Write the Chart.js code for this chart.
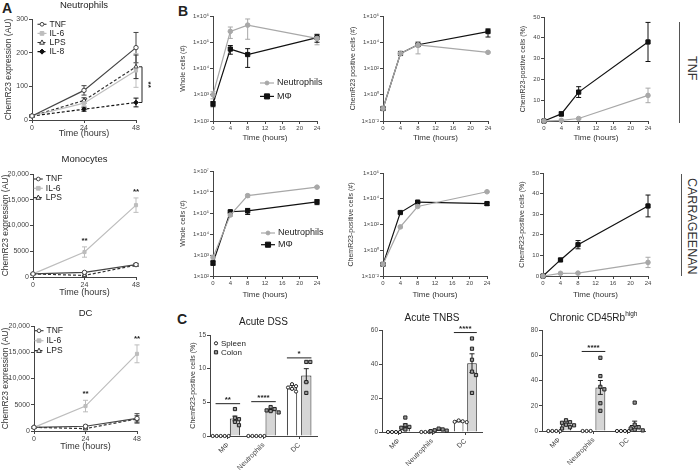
<!DOCTYPE html>
<html>
<head>
<meta charset="utf-8">
<script src="https://cdn.jsdelivr.net/npm/chart.js@4.4.1/dist/chart.umd.min.js"></script>
<style>
  body { margin: 0; background: #fff; }
  #fig { position: relative; width: 700px; height: 471px; overflow: hidden; font-family: "Liberation Sans", Arial, sans-serif; color: #222; }
  #fig canvas { position: absolute; }
  .tag { position: absolute; font-weight: bold; font-size: 14px; }
  .side { position: absolute; writing-mode: vertical-rl; font-size: 12.5px; color: #333; }
  .rule { position: absolute; width: 0; border-left: 1px solid #555; }
</style>
</head>
<body>
<div id="fig">
  <div class="tag" style="left:2px;top:0px">A</div>
  <div class="tag" style="left:178px;top:3px">B</div>
  <div class="tag" style="left:177px;top:311px">C</div>
  <div class="rule" style="left:679px;top:22px;height:101px"></div>
  <div class="side" style="left:685px;top:56px">TNF</div>
  <div class="rule" style="left:681px;top:174px;height:102px"></div>
  <div class="side" style="left:685px;top:178px">CARRAGEENAN</div>

  <canvas id="aNeu"></canvas>
  <canvas id="aMono"></canvas>
  <canvas id="aDc"></canvas>
  <canvas id="bTnfWhole"></canvas>
  <canvas id="bTnfPos"></canvas>
  <canvas id="bTnfPct"></canvas>
  <canvas id="bCarWhole"></canvas>
  <canvas id="bCarPos"></canvas>
  <canvas id="bCarPct"></canvas>
  <canvas id="cDss"></canvas>
  <canvas id="cTnbs"></canvas>
  <canvas id="cChronic"></canvas>
</div>
<script>
// ---- panel A: ChemR23 expression after stimulation (AU) ----
const hoursA = [0, 24, 48];
const neuTNF = [12, 88, 215], neuTNFsem = [3, 14, 45];
const neuIL6 = [12, 50, 147], neuIL6sem = [3, 8, 50];
const neuLPS = [12, 58, 158], neuLPSsem = [3, 8, 35];
const neuIL8 = [12, 32, 52], neuIL8sem = [3, 6, 13];

const monoTNF = [600, 900, 2400], monoTNFsem = [100, 150, 250];
const monoIL6 = [600, 4850, 13950], monoIL6sem = [100, 1000, 1400];
const monoLPS = [600, 300, 2300], monoLPSsem = [100, 80, 200];

const dcTNF = [700, 900, 2400], dcTNFsem = [100, 200, 900];
const dcIL6 = [700, 4750, 14700], dcIL6sem = [100, 1100, 1700];
const dcLPS = [700, 450, 2300], dcLPSsem = [100, 100, 600];

// ---- panel B: in vivo kinetics ----
const hoursB = [0, 4, 8, 24];
const tnfWholeNeu = [1000, 260000, 450000, 140000], tnfWholeNeuSem = [300, 120000, 320000, 60000];
const tnfWholeMac = [450, 55000, 34000, 150000], tnfWholeMacSem = [100, 20000, 23000, 50000];
const tnfPosNeu = [0.09, 1400, 6300, 1700], tnfPosNeuSem = [0.02, 200, 5000, 200];
const tnfPosMac = [0.09, 1400, 6500, 65000], tnfPosMacSem = [0.02, 200, 1000, 40000];
const tnfPctNeu = [0, 0.3, 1.2, 12.3], tnfPctNeuSem = [0, 0.2, 0.4, 3.5];
const tnfPctMac = [0, 3.4, 13.9, 38], tnfPctMacSem = [0, 1, 2.6, 9.4];

const carWholeNeu = [770, 80000, 670000, 1700000], carWholeNeuSem = [200, 10000, 100000, 100000];
const carWholeMac = [420, 115000, 125000, 340000], carWholeMacSem = [100, 10000, 40000, 90000];
const carPosNeu = [0.08, 65, 2500, 35000], carPosNeuSem = [0.01, 10, 300, 3000];
const carPosMac = [0.08, 850, 5500, 4200], carPosMacSem = [0.01, 100, 1000, 1200];
const carPctNeu = [0, 1.3, 1.4, 6.6], carPctNeuSem = [0, 0.3, 0.3, 2.5];
const carPctMac = [0, 7.8, 15.2, 34], carPctMacSem = [0, 0.6, 2, 5.3];

// ---- panel C: colitis models ----
const cellTypes = ['MΦ', 'Neutrophils', 'DC'];
const dssSpleen = [0, 0, 7.2], dssSpleenSem = [0, 0, 0.3];
const dssColon = [2.6, 3.85, 9.0], dssColonSem = [0.35, 0.15, 1.0];
const dssSpleenDots = [[0, 0, 0, 0, 0], [0, 0, 0, 0, 0], [7.7, 7.4, 7.2, 7.0, 6.6]];
const dssColonDots = [[4.0, 2.7, 2.5, 2.1, 1.6], [4.3, 4.0, 3.8, 3.7, 3.5], [11.0, 11.0, 8.0, 6.4]];
const dssSig = [{ cat: 0, at: 4.8, text: '**' }, { cat: 1, at: 5.1, text: '****' }, { cat: 2, at: 11.6, text: '*' }];

const tnbsSpleen = [0, 0, 6.3], tnbsSpleenSem = [0, 0, 0.3];
const tnbsColon = [3.6, 1.2, 40.5], tnbsColonSem = [1.1, 0.3, 5.5];
const tnbsSpleenDots = [[0, 0, 0, 0], [0, 0, 0, 0], [6.8, 6.3, 6.0, 5.8]];
const tnbsColonDots = [[8.5, 4, 3, 2.5, 1.5], [2, 1.5, 1, 0.8, 0.5], [55, 49, 42.5, 35.5, 33.5, 23]];
const tnbsSig = [{ cat: 2, at: 58.5, text: '****' }];

const chrSpleen = [0, 0, 0], chrSpleenSem = [0, 0, 0];
const chrColon = [5.2, 34.5, 4.8], chrColonSem = [1, 5.5, 3];
const chrSpleenDots = [[0, 0, 0, 0], [0, 0, 0], [0, 0, 0, 0]];
const chrColonDots = [[8.5, 7, 6.5, 5, 4.5, 3, 2], [58, 43.5, 35, 33, 22, 16], [22.5, 5, 3, 2, 1, 0.5]];
const chrSig = [{ cat: 1, at: 63, text: '****' }];

const FONT = '"Liberation Sans", Arial, Helvetica, sans-serif';
Chart.defaults.font.family = FONT;
Chart.defaults.color = '#333';
Chart.defaults.animation = false;
Chart.defaults.plugins.legend.display = false;
Chart.defaults.plugins.tooltip.enabled = false;

const looks = {
  tnf: { borderColor: '#444', pointStyle: 'circle', pointRadius: 2.2, pointBackgroundColor: '#fff', pointBorderColor: '#444' },
  il6: { borderColor: '#bdbdbd', pointStyle: 'rect', pointRadius: 2.2, pointBackgroundColor: '#bdbdbd', pointBorderColor: '#bdbdbd' },
  lps: { borderColor: '#333', borderDash: [3, 2], pointStyle: 'triangle', pointRadius: 2.5, pointBackgroundColor: '#fff', pointBorderColor: '#333' },
  il8: { borderColor: '#111', borderDash: [3, 2], pointStyle: 'rectRot', pointRadius: 2.3, pointBackgroundColor: '#111', pointBorderColor: '#111' },
  neu: { borderColor: '#a8a8a8', pointStyle: 'circle', pointRadius: 2.3, pointBackgroundColor: '#a8a8a8', pointBorderColor: '#a8a8a8' },
  mac: { borderColor: '#111', pointStyle: 'rect', pointRadius: 3, pointBackgroundColor: '#111', pointBorderColor: '#111' }
};

function series(label, xs, ys, sem, look) {
  return Object.assign({
    label, sem,
    data: xs.map((x, i) => ({ x, y: ys[i] })),
    borderWidth: 1.2, pointBorderWidth: 1, clip: false
  }, look);
}

// small marker drawer, used for legends and the dots on the bars
function mark(ctx, style, x, y, r, fill, stroke) {
  ctx.beginPath();
  if (style === 'rect') ctx.rect(x - r, y - r, 2 * r, 2 * r);
  else if (style === 'triangle') { ctx.moveTo(x, y - r * 1.2); ctx.lineTo(x + r * 1.1, y + r * 0.8); ctx.lineTo(x - r * 1.1, y + r * 0.8); ctx.closePath(); }
  else if (style === 'rectRot') { ctx.moveTo(x, y - r * 1.3); ctx.lineTo(x + r * 1.3, y); ctx.lineTo(x, y + r * 1.3); ctx.lineTo(x - r * 1.3, y); ctx.closePath(); }
  else ctx.arc(x, y, r, 0, Math.PI * 2);
  ctx.fillStyle = fill; ctx.fill();
  ctx.setLineDash([]); ctx.strokeStyle = stroke; ctx.lineWidth = 1; ctx.stroke();
}

// mean +/- SEM whiskers
const errBars = {
  id: 'errBars',
  draw(chart) {
    const { ctx } = chart, ys = chart.scales.y;
    chart.data.datasets.forEach((ds, di) => {
      if (!ds.sem) return;
      const meta = chart.getDatasetMeta(di);
      ctx.save();
      ctx.strokeStyle = chart.config.type === 'bar' ? '#222' : ds.borderColor;
      ctx.lineWidth = 1;
      ctx.setLineDash([]);
      meta.data.forEach((el, i) => {
        const e = ds.sem[i];
        if (!e) return;
        const v = typeof ds.data[i] === 'object' ? ds.data[i].y : ds.data[i];
        let lo = v - e;
        if (ys.type === 'logarithmic' && lo <= 0) lo = ys.min;
        const yh = ys.getPixelForValue(v + e), yl = ys.getPixelForValue(lo);
        const cap = 2.5;
        ctx.beginPath();
        ctx.moveTo(el.x, yh); ctx.lineTo(el.x, yl);
        ctx.moveTo(el.x - cap, yh); ctx.lineTo(el.x + cap, yh);
        ctx.moveTo(el.x - cap, yl); ctx.lineTo(el.x + cap, yl);
        ctx.stroke();
      });
      ctx.restore();
    });
  },
  beforeDatasetsDraw(chart) { if (chart.config.type !== 'bar') this.draw(chart); },
  afterDatasetsDraw(chart) { if (chart.config.type === 'bar') this.draw(chart); }
};

// individual animals on the bars, laid out as a small swarm
const dotsPlug = {
  id: 'dots',
  afterDatasetsDraw(chart) {
    const { ctx } = chart, ys = chart.scales.y, r = 1.6;
    chart.data.datasets.forEach((ds, di) => {
      if (!ds.dots) return;
      chart.getDatasetMeta(di).data.forEach((bar, i) => {
        const placed = [];
        ds.dots[i].forEach(v => {
          const y = ys.getPixelForValue(v);
          for (let k = 0; k < 20; k++) {
            const off = (k % 2 ? 1 : -1) * Math.ceil(k / 2) * (2 * r + 0.8);
            if (placed.every(p => Math.hypot(p.x - off, p.y - y) >= 2 * r + 0.6)) {
              placed.push({ x: off, y });
              mark(ctx, ds.dotStyle, bar.x + off, y, r, ds.dotFill, ds.dotStroke);
              break;
            }
          }
        });
      });
    });
  }
};
Chart.register(errBars, dotsPlug);

function heading(text, y, size, sup) {
  return { id: 'heading', afterDraw(chart) {
    const ctx = chart.ctx, a = chart.chartArea;
    const big = size + 'px ' + FONT, small = (size * 0.65) + 'px ' + FONT;
    ctx.save();
    ctx.fillStyle = '#222'; ctx.textBaseline = 'middle'; ctx.textAlign = 'left';
    ctx.font = big; const w = ctx.measureText(text).width;
    ctx.font = small; const sw = sup ? ctx.measureText(sup).width : 0;
    const x = (a.left + a.right) / 2 - (w + sw) / 2;
    ctx.font = big; ctx.fillText(text, x, y);
    if (sup) { ctx.font = small; ctx.fillText(sup, x + w, y - size * 0.35); }
    ctx.restore();
  }};
}

function key(dx, dy, row, size, lineLen) {
  return { id: 'key', afterDraw(chart) {
    const ctx = chart.ctx, a = chart.chartArea;
    chart.data.datasets.forEach((ds, i) => {
      const x = a.left + dx, y = a.top + dy + i * row;
      ctx.save();
      if (lineLen) {
        ctx.strokeStyle = ds.borderColor; ctx.lineWidth = ds.borderWidth || 1;
        ctx.setLineDash(ds.borderDash || []);
        ctx.beginPath(); ctx.moveTo(x - lineLen / 2, y); ctx.lineTo(x + lineLen / 2, y); ctx.stroke();
        mark(ctx, ds.pointStyle, x, y, ds.pointRadius * 0.85, ds.pointBackgroundColor, ds.pointBorderColor);
      } else {
        mark(ctx, ds.dotStyle, x, y, 1.6, ds.dotFill, ds.dotStroke);
      }
      ctx.fillStyle = '#222'; ctx.font = size + 'px ' + FONT; ctx.textBaseline = 'middle'; ctx.textAlign = 'left';
      ctx.fillText(ds.label, x + (lineLen ? lineLen / 2 + 3 : 5), y);
      ctx.restore();
    });
  }};
}

// "**" over the IL-6 error bars
function starsAbove(di, idxs, text) {
  return { id: 'stars', afterDraw(chart) {
    const ctx = chart.ctx, ys = chart.scales.y, ds = chart.data.datasets[di];
    const meta = chart.getDatasetMeta(di);
    ctx.save();
    ctx.fillStyle = '#222'; ctx.font = 'bold 8px ' + FONT; ctx.textAlign = 'center'; ctx.textBaseline = 'bottom';
    idxs.forEach(i => ctx.fillText(text, meta.data[i].x, ys.getPixelForValue(ds.data[i].y + ds.sem[i]) - 2));
    ctx.restore();
  }};
}

// vertical bracket at the right of panel A (neutrophils)
function bracket(dTop, dBot, idx, text) {
  return { id: 'bracket', afterDraw(chart) {
    const ctx = chart.ctx, ys = chart.scales.y, a = chart.chartArea;
    const y1 = ys.getPixelForValue(chart.data.datasets[dTop].data[idx].y);
    const y2 = ys.getPixelForValue(chart.data.datasets[dBot].data[idx].y);
    const x = a.right + 6;
    ctx.save();
    ctx.strokeStyle = '#222'; ctx.lineWidth = 1;
    ctx.beginPath(); ctx.moveTo(x - 3, y1); ctx.lineTo(x, y1); ctx.lineTo(x, y2); ctx.lineTo(x - 3, y2); ctx.stroke();
    ctx.translate(x + 6, (y1 + y2) / 2); ctx.rotate(Math.PI / 2);
    ctx.fillStyle = '#222'; ctx.font = 'bold 8px ' + FONT; ctx.textAlign = 'center'; ctx.textBaseline = 'middle';
    ctx.fillText(text, 0, 0);
    ctx.restore();
  }};
}

function sigBars(marks) {
  return { id: 'sigBars', afterDraw(chart) {
    const ctx = chart.ctx, ys = chart.scales.y;
    const m0 = chart.getDatasetMeta(0), m1 = chart.getDatasetMeta(1);
    ctx.save();
    ctx.strokeStyle = '#222'; ctx.lineWidth = 1; ctx.fillStyle = '#222';
    ctx.font = 'bold 8px ' + FONT; ctx.textAlign = 'center'; ctx.textBaseline = 'bottom';
    marks.forEach(m => {
      const b0 = m0.data[m.cat], b1 = m1.data[m.cat];
      const x0 = b0.x - b0.width / 2, x1 = b1.x + b1.width / 2, y = ys.getPixelForValue(m.at);
      ctx.beginPath(); ctx.moveTo(x0, y); ctx.lineTo(x1, y); ctx.stroke();
      ctx.fillText(m.text, (x0 + x1) / 2, y);
    });
    ctx.restore();
  }};
}

const supers = { '-': '⁻', '0': '⁰', '1': '¹', '2': '²', '3': '³', '4': '⁴', '5': '⁵', '6': '⁶', '7': '⁷', '8': '⁸', '9': '⁹' };
function pow10(v) {
  const e = Math.round(Math.log10(v));
  return '1×10' + String(e).split('').map(c => supers[c]).join('');
}
function lin(min, max, step, fmt) {
  return { type: 'linear', min, max, ticks: { stepSize: step, callback: fmt } };
}
function logAxis(decades) {
  return {
    type: 'logarithmic', min: decades[0], max: decades[decades.length - 1],
    afterBuildTicks: s => { s.ticks = decades.map(v => ({ value: v })); },
    ticks: { callback: v => pow10(v) }
  };
}
const thousands = v => (v >= 10000 ? v.toLocaleString('en-US') : String(v));

function axis(side, room, spec, title, tSize, lSize) {
  return Object.assign({}, spec, {
    ticks: Object.assign({ font: { size: lSize }, color: '#444', padding: 1, autoSkip: false }, spec.ticks),
    border: { color: '#444', width: 1 },
    grid: { drawOnChartArea: false, tickLength: 3, color: '#444', offset: false },
    title: { display: !!title, text: title, font: { size: tSize }, color: '#333', padding: 0 },
    afterFit(s) {
      if (side === 'x') s.height = room; else s.width = room;
      s.paddingLeft = s.paddingRight = s.paddingTop = s.paddingBottom = 0;
    }
  });
}

// area = plot rectangle on the page [left, top, right, bottom]; pad = room around it [l, t, r, b]
function frame(id, area, pad) {
  const c = document.getElementById(id);
  const w = area[2] - area[0] + pad[0] + pad[2];
  const h = area[3] - area[1] + pad[1] + pad[3];
  c.style.left = (area[0] - pad[0]) + 'px';
  c.style.top = (area[1] - pad[1]) + 'px';
  c.style.width = w + 'px'; c.style.height = h + 'px';
  c.width = w; c.height = h;
  return c;
}

function lineChart(id, area, pad, datasets, xSpec, ySpec, yTitle, sz, extras) {
  return new Chart(frame(id, area, pad), {
    type: 'line',
    data: { datasets },
    options: {
      responsive: false, events: [],
      layout: { padding: { top: pad[1], right: pad[2], left: 0, bottom: 0 } },
      scales: {
        x: axis('x', pad[3], xSpec, 'Time (hours)', sz.xt, sz.tick),
        y: axis('y', pad[0], ySpec, yTitle, sz.yt, sz.tick)
      }
    },
    plugins: extras
  });
}

function barChart(id, area, pad, spleen, colon, ySpec, yTitle, extras) {
  const common = { borderColor: '#222', borderWidth: 1, barPercentage: 0.72, categoryPercentage: 0.8, dotStroke: '#222' };
  return new Chart(frame(id, area, pad), {
    type: 'bar',
    data: {
      labels: cellTypes,
      datasets: [
        Object.assign({ label: 'Spleen', data: spleen[0], sem: spleen[1], dots: spleen[2], backgroundColor: '#fff', dotStyle: 'circle', dotFill: '#fff' }, common),
        Object.assign({ label: 'Colon', data: colon[0], sem: colon[1], dots: colon[2], backgroundColor: '#d6d6d6', dotStyle: 'rect', dotFill: '#9a9a9a' }, common)
      ]
    },
    options: {
      responsive: false, events: [],
      layout: { padding: { top: pad[1], right: pad[2], left: 0, bottom: 0 } },
      scales: {
        x: axis('x', pad[3], { type: 'category', ticks: { minRotation: 45, maxRotation: 45, padding: 2 } }, '', 7, 7),
        y: axis('y', pad[0], ySpec, yTitle, 7, 6.5)
      }
    },
    plugins: extras
  });
}

const szA = { tick: 7, xt: 9, yt: 8.5 };
const szB = { tick: 6, xt: 8, yt: 7 };
const yA = 'ChemR23 expression (AU)';

lineChart('aNeu', [32, 19, 136, 120], [28, 19, 22, 19], [
  series('TNF', hoursA, neuTNF, neuTNFsem, looks.tnf),
  series('IL-6', hoursA, neuIL6, neuIL6sem, looks.il6),
  series('LPS', hoursA, neuLPS, neuLPSsem, looks.lps),
  series('IL-8', hoursA, neuIL8, neuIL8sem, looks.il8)
], lin(0, 48, 24), lin(0, 300, 100), yA, szA,
  [heading('Neutrophils', 5, 9.5), key(10, 5.3, 9.1, 8.5, 9), bracket(2, 3, 2, '**')]);

lineChart('aMono', [33, 174, 136, 277], [32, 19, 8, 21], [
  series('TNF', hoursA, monoTNF, monoTNFsem, looks.tnf),
  series('IL-6', hoursA, monoIL6, monoIL6sem, looks.il6),
  series('LPS', hoursA, monoLPS, monoLPSsem, looks.lps)
], lin(0, 48, 24), lin(0, 20000, 5000, thousands), yA, szA,
  [heading('Monocytes', 4, 9.5), key(5.3, 5, 9.3, 8.5, 9), starsAbove(1, [1, 2], '**')]);

lineChart('aDc', [34, 326, 137, 431], [33, 17, 8, 21], [
  series('TNF', hoursA, dcTNF, dcTNFsem, looks.tnf),
  series('IL-6', hoursA, dcIL6, dcIL6sem, looks.il6),
  series('LPS', hoursA, dcLPS, dcLPSsem, looks.lps)
], lin(0, 48, 24), lin(0, 20000, 5000, thousands), yA, szA,
  [heading('DC', 4, 9.5), key(5, 4.7, 10, 8.5, 9), starsAbove(1, [1, 2], '**')]);

const xB = lin(0, 24, 4);
lineChart('bTnfWhole', [213, 16, 317, 121], [34, 6, 8, 22], [
  series('Neutrophils', hoursB, tnfWholeNeu, tnfWholeNeuSem, looks.neu),
  series('MΦ', hoursB, tnfWholeMac, tnfWholeMacSem, looks.mac)
], xB, logAxis([1e2, 1e3, 1e4, 1e5, 1e6]), 'Whole cells (#)', szB, [key(54, 67, 13.4, 9, 14)]);

lineChart('bTnfPos', [383, 16, 488, 121], [34, 6, 8, 22], [
  series('Neutrophils', hoursB, tnfPosNeu, tnfPosNeuSem, looks.neu),
  series('MΦ', hoursB, tnfPosMac, tnfPosMacSem, looks.mac)
], xB, logAxis([1e-2, 1, 1e2, 1e4, 1e6]), 'ChemR23 positive cells (#)', szB, []);

lineChart('bTnfPct', [544, 17, 648, 121], [25, 6, 8, 22], [
  series('Neutrophils', hoursB, tnfPctNeu, tnfPctNeuSem, looks.neu),
  series('MΦ', hoursB, tnfPctMac, tnfPctMacSem, looks.mac)
], xB, lin(0, 50, 10), 'ChemR23-positive cells (%)', szB, []);

lineChart('bCarWhole', [213, 171, 317, 276], [34, 6, 8, 24], [
  series('Neutrophils', hoursB, carWholeNeu, carWholeNeuSem, looks.neu),
  series('MΦ', hoursB, carWholeMac, carWholeMacSem, looks.mac)
], xB, logAxis([1e2, 1e3, 1e4, 1e5, 1e6, 1e7]), 'Whole cells (#)', szB, [key(55, 62, 11.7, 9, 14)]);

lineChart('bCarPos', [383, 173, 487, 276], [36, 6, 8, 24], [
  series('Neutrophils', hoursB, carPosNeu, carPosNeuSem, looks.neu),
  series('MΦ', hoursB, carPosMac, carPosMacSem, looks.mac)
], xB, logAxis([1e-2, 1, 1e2, 1e4, 1e6]), 'ChemR23-positive cells (#)', szB, []);

lineChart('bCarPct', [543, 173, 648, 276], [25, 6, 8, 24], [
  series('Neutrophils', hoursB, carPctNeu, carPctNeuSem, looks.neu),
  series('MΦ', hoursB, carPctMac, carPctMacSem, looks.mac)
], xB, lin(0, 50, 10), 'ChemR23-positive cells (%)', szB, []);

barChart('cDss', [210, 335, 317, 436], [21, 21, 6, 35],
  [dssSpleen, dssSpleenSem, dssSpleenDots], [dssColon, dssColonSem, dssColonDots],
  lin(0, 15, 5), 'ChemR23-positive cells (%)',
  [heading('Acute DSS', 8, 10), key(6, 8.3, 9, 8, 0), sigBars(dssSig)]);

barChart('cTnbs', [382, 330, 482, 432], [20, 19, 6, 38],
  [tnbsSpleen, tnbsSpleenSem, tnbsSpleenDots], [tnbsColon, tnbsColonSem, tnbsColonDots],
  lin(0, 60, 20), '', [heading('Acute TNBS', 7, 10), sigBars(tnbsSig)]);

barChart('cChronic', [542, 330, 645, 431], [20, 19, 6, 40],
  [chrSpleen, chrSpleenSem, chrSpleenDots], [chrColon, chrColonSem, chrColonDots],
  lin(0, 80, 20), '', [heading('Chronic CD45Rb', 7, 10, 'high'), sigBars(chrSig)]);
</script>
</body>
</html>
